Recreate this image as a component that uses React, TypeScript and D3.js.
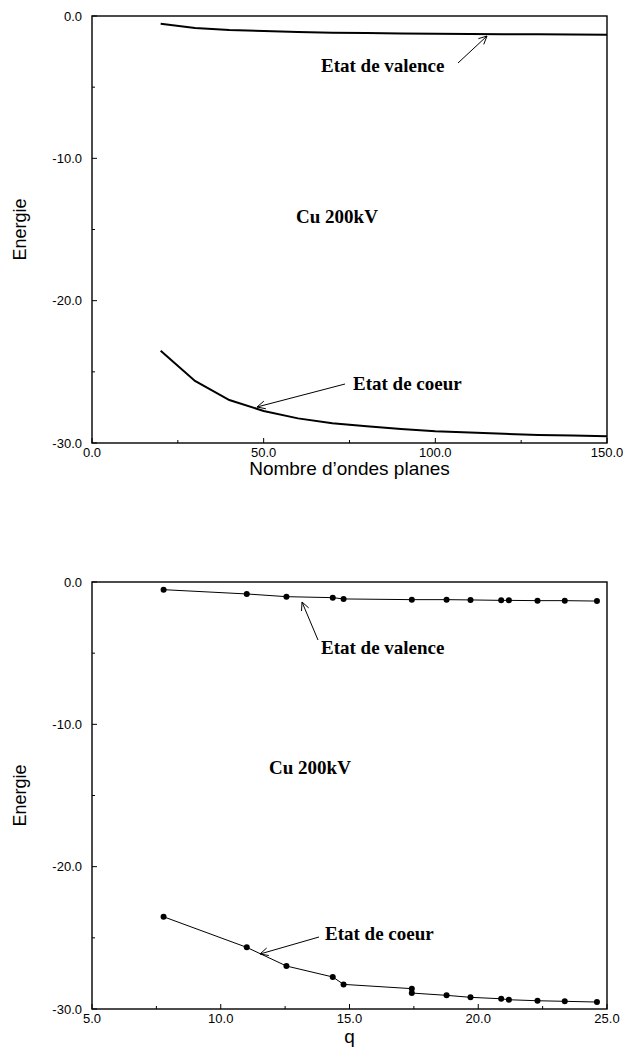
import React from "react";
import * as d3 from "d3";

// ---- Top chart: Energie vs Nombre d'ondes planes ----
const planeWaves = [20, 30, 40, 50, 60, 70, 80, 90, 100, 110, 120, 130, 140, 150];
const valenceTop = [-0.54, -0.84, -0.98, -1.06, -1.12, -1.17, -1.2, -1.23, -1.25, -1.27, -1.28, -1.29, -1.3, -1.31];
const coreTop = [-23.51, -25.64, -26.98, -27.75, -28.27, -28.62, -28.83, -29.02, -29.18, -29.27, -29.35, -29.43, -29.48, -29.53];

// ---- Bottom chart: Energie vs q ----
const qValence = [7.78, 11.01, 12.55, 14.35, 14.77, 17.42, 18.77, 19.7, 20.89, 21.19, 22.3, 23.36, 24.61];
const eValence = [-0.54, -0.84, -1.03, -1.1, -1.19, -1.24, -1.24, -1.26, -1.29, -1.29, -1.31, -1.31, -1.34];
const qCore = [7.78, 11.01, 12.55, 14.35, 14.77, 17.42, 17.42, 18.77, 19.7, 20.89, 21.19, 22.3, 23.36, 24.61];
const eCore = [-23.52, -25.67, -26.98, -27.75, -28.27, -28.57, -28.88, -29.04, -29.18, -29.28, -29.35, -29.42, -29.46, -29.51];

const yTicks = [0, -10, -20, -30];
const yMinor = [-5, -15, -25];
const xTicksTop = [0, 50, 100, 150];
const xMinorTop = [25, 75, 125];
const xTicksBot = [5, 10, 15, 20, 25];
const xMinorBot = [7.5, 12.5, 17.5, 22.5];

const SANS = "'Liberation Sans', Arial, sans-serif";
const SERIF = "'Liberation Serif', 'Times New Roman', serif";

type Pt = [number, number];

const fmt = (v: number) => v.toFixed(1);

function Arrow({ from, to }: { from: Pt; to: Pt }) {
  const ang = Math.atan2(to[1] - from[1], to[0] - from[0]);
  const len = 9;
  const spread = 0.45;
  const a1: Pt = [to[0] - len * Math.cos(ang - spread), to[1] - len * Math.sin(ang - spread)];
  const a2: Pt = [to[0] - len * Math.cos(ang + spread), to[1] - len * Math.sin(ang + spread)];
  return (
    <g stroke="#000" strokeWidth={1} fill="none">
      <line x1={from[0]} y1={from[1]} x2={to[0]} y2={to[1]} />
      <polyline points={`${a1[0]},${a1[1]} ${to[0]},${to[1]} ${a2[0]},${a2[1]}`} />
    </g>
  );
}

function Frame({
  x,
  y,
  xTicks,
  xMinor,
  yTitle,
  xTitle,
  xTitleY,
}: {
  x: d3.ScaleLinear<number, number>;
  y: d3.ScaleLinear<number, number>;
  xTicks: number[];
  xMinor: number[];
  yTitle: string;
  xTitle: string;
  xTitleY: number;
}) {
  const [x0, x1] = x.range();
  const [y0, y1] = y.range(); // y0 bottom, y1 top
  return (
    <g>
      <rect x={x0} y={y1} width={x1 - x0} height={y0 - y1} fill="none" stroke="#000" strokeWidth={1.4} />
      {yTicks.map((t) => (
        <g key={"yt" + t}>
          <line x1={x0} x2={x0 + 5} y1={y(t)} y2={y(t)} stroke="#000" strokeWidth={1} />
          <text x={x0 - 10} y={y(t)} dy="0.35em" textAnchor="end" fontFamily={SANS} fontSize={13}>
            {fmt(t)}
          </text>
        </g>
      ))}
      {yMinor.map((t) => (
        <line key={"ym" + t} x1={x0} x2={x0 + 3} y1={y(t)} y2={y(t)} stroke="#000" strokeWidth={1} />
      ))}
      {xTicks.map((t) => (
        <g key={"xt" + t}>
          <line x1={x(t)} x2={x(t)} y1={y0} y2={y0 - 5} stroke="#000" strokeWidth={1} />
          <text x={x(t)} y={y0 + 14} textAnchor="middle" fontFamily={SANS} fontSize={13}>
            {fmt(t)}
          </text>
        </g>
      ))}
      {xMinor.map((t) => (
        <line key={"xm" + t} x1={x(t)} x2={x(t)} y1={y0} y2={y0 - 3} stroke="#000" strokeWidth={1} />
      ))}
      <text x={(x0 + x1) / 2} y={xTitleY} textAnchor="middle" fontFamily={SANS} fontSize={19}>
        {xTitle}
      </text>
      <text
        transform={`translate(26,${(y0 + y1) / 2}) rotate(-90)`}
        textAnchor="middle"
        fontFamily={SANS}
        fontSize={18}
      >
        {yTitle}
      </text>
    </g>
  );
}

export default function App() {
  const left = 92;
  const right = 607;

  const xTop = d3.scaleLinear().domain([0, 150]).range([left, right]);
  const yTop = d3.scaleLinear().domain([-30, 0]).range([443, 16]);
  const xBot = d3.scaleLinear().domain([5, 25]).range([left, right]);
  const yBot = d3.scaleLinear().domain([-30, 0]).range([1009, 582]);

  const lineTop = d3
    .line<[number, number]>()
    .x((d) => xTop(d[0]))
    .y((d) => yTop(d[1]));
  const lineBot = d3
    .line<[number, number]>()
    .x((d) => xBot(d[0]))
    .y((d) => yBot(d[1]));

  const topVal: [number, number][] = planeWaves.map((v, i) => [v, valenceTop[i]]);
  const topCore: [number, number][] = planeWaves.map((v, i) => [v, coreTop[i]]);
  const botVal: [number, number][] = qValence.map((v, i) => [v, eValence[i]]);
  const botCore: [number, number][] = qCore.map((v, i) => [v, eCore[i]]);

  const annot = { fontFamily: SERIF, fontWeight: 700, fontSize: 19 } as const;

  return (
    <svg width={623} height={1050} style={{ position: "absolute", left: 0, top: 0, background: "#fff" }}>
      <rect width={623} height={1050} fill="#fff" />
      {/* Top chart */}
      <Frame x={xTop} y={yTop} xTicks={xTicksTop} xMinor={xMinorTop} yTitle="Energie" xTitle="Nombre d’ondes planes" xTitleY={475} />
      <path d={lineTop(topVal) || ""} fill="none" stroke="#000" strokeWidth={2} />
      <path d={lineTop(topCore) || ""} fill="none" stroke="#000" strokeWidth={2} />
      <text x={321} y={72} {...annot}>Etat de valence</text>
      <Arrow from={[458, 63]} to={[487, 36]} />
      <text x={337} y={223} textAnchor="middle" {...annot}>Cu 200kV</text>
      <text x={353} y={390} {...annot}>Etat de coeur</text>
      <Arrow from={[345, 384]} to={[257, 407]} />

      {/* Bottom chart */}
      <Frame x={xBot} y={yBot} xTicks={xTicksBot} xMinor={xMinorBot} yTitle="Energie" xTitle="q" xTitleY={1043} />
      <path d={lineBot(botVal) || ""} fill="none" stroke="#000" strokeWidth={1} />
      <path d={lineBot(botCore) || ""} fill="none" stroke="#000" strokeWidth={1} />
      {botVal.map((d, i) => (
        <circle key={"bv" + i} cx={xBot(d[0])} cy={yBot(d[1])} r={3} fill="#000" />
      ))}
      {botCore.map((d, i) => (
        <circle key={"bc" + i} cx={xBot(d[0])} cy={yBot(d[1])} r={3} fill="#000" />
      ))}
      <text x={321} y={654} {...annot}>Etat de valence</text>
      <Arrow from={[318, 640]} to={[302, 602]} />
      <text x={310} y={774} textAnchor="middle" {...annot}>Cu 200kV</text>
      <text x={325} y={940} {...annot}>Etat de coeur</text>
      <Arrow from={[319, 937]} to={[260, 954]} />
    </svg>
  );
}
